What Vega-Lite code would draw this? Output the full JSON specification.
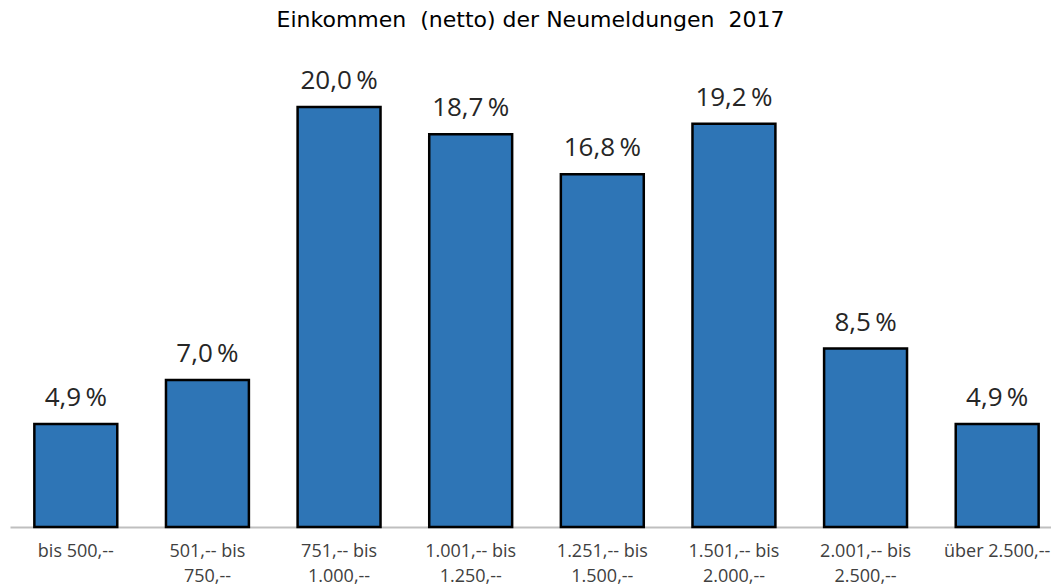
{
  "$schema": "https://vega.github.io/schema/vega-lite/v6.json",
  "autosize": "none",
  "width": 1051,
  "height": 487,
  "padding": {"left": 0, "top": 40, "right": 0, "bottom": 61},
  "background": "white",
  "title": {
    "text": "Einkommen\u00a0 (netto) der Neumeldungen\u00a0 2017",
    "font": "DejaVu Sans",
    "fontSize": 22,
    "fontWeight": "normal",
    "color": "#000000",
    "anchor": "middle",
    "baseline": "alphabetic",
    "offset": -9,
    "dx": 5
  },
  "config": {"view": {"stroke": null}},
  "data": {
    "values": [
      {"kategorie": "bis 500,--", "anteil": 4.9},
      {"kategorie": "501,-- bis 750,--", "anteil": 7.0},
      {"kategorie": "751,-- bis 1.000,--", "anteil": 20.0},
      {"kategorie": "1.001,-- bis 1.250,--", "anteil": 18.7},
      {"kategorie": "1.251,-- bis 1.500,--", "anteil": 16.8},
      {"kategorie": "1.501,-- bis 2.000,--", "anteil": 19.2},
      {"kategorie": "2.001,-- bis 2.500,--", "anteil": 8.5},
      {"kategorie": "über 2.500,--", "anteil": 4.9}
    ]
  },
  "transform": [
    {"calculate": "replace(format(datum.anteil, '.1f'), '.', ',') + '\u2009%'", "as": "beschriftung"}
  ],
  "encoding": {
    "x": {
      "field": "kategorie",
      "type": "nominal",
      "sort": null,
      "scale": {"range": [10, 1063], "paddingInner": 0.37, "paddingOuter": 0.185},
      "axis": {
        "title": null,
        "labelAngle": 0,
        "ticks": false,
        "domainColor": "#BFBFBF",
        "domainWidth": 2,
        "labelFont": "Open Sans",
        "labelFontSize": 18,
        "labelColor": "#404040",
        "labelBaseline": "top",
        "labelPadding": 15,
        "labelLineHeight": 25,
        "labelLimit": 300,
        "labelExpr": "indexof(datum.label, ' bis ') > 0 ? [slice(datum.label, 0, indexof(datum.label, ' bis ') + 4), slice(datum.label, indexof(datum.label, ' bis ') + 5)] : datum.label"
      }
    },
    "y": {
      "field": "anteil",
      "type": "quantitative",
      "scale": {"domain": [0, 25], "range": [487, -38], "nice": false, "zero": true},
      "axis": null
    }
  },
  "layer": [
    {
      "mark": {"type": "bar", "color": "#2E75B6", "stroke": "#000000", "strokeWidth": 2.5}
    },
    {
      "mark": {"type": "text", "font": "Open Sans", "fontSize": 26, "color": "#262626", "baseline": "alphabetic", "dy": -18},
      "encoding": {"text": {"field": "beschriftung"}}
    }
  ]
}
